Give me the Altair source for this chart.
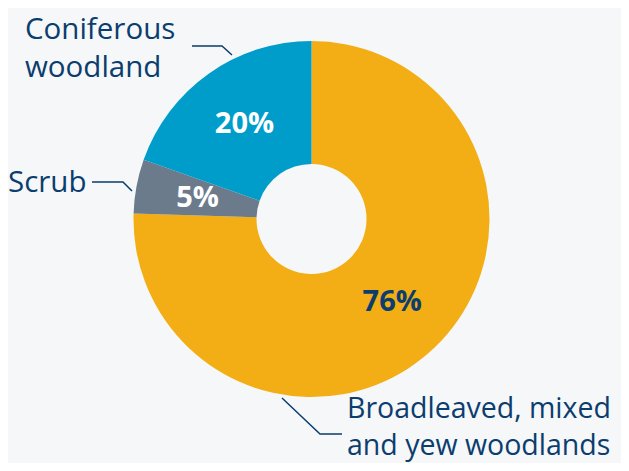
import altair as alt
import pandas as pd

# ---- data ----
categories = ["Broadleaved, mixed and yew woodlands", "Scrub", "Coniferous woodland"]
shares = [75.5, 4.9, 19.6]
pct_labels = ["76%", "5%", "20%"]
slice_order = [1, 2, 3]

# ---- style ----
slice_colors = ["#F2AE14", "#6B7B8C", "#009DCB"]
pct_text_colors = ["#0B3D6E", "#FFFFFF", "#FFFFFF"]
NAVY = "#0B3D6E"
BG = "#F5F7F9"
FONT = "Open Sans"
M = 8  # page margin
CX, CY = 311.5 - M, 219 - M

df = pd.DataFrame({
    "category": categories,
    "share": shares,
    "pct": pct_labels,
    "ord": slice_order,
    "tcolor": pct_text_colors,
})

base = alt.Chart(df).encode(
    theta=alt.Theta("share:Q", stack=True),
    order=alt.Order("ord:Q"),
)

arcs = base.mark_arc(outerRadius=178, innerRadius=55).encode(
    color=alt.Color("category:N", scale=alt.Scale(domain=categories, range=slice_colors), legend=None),
    x=alt.value(CX), y=alt.value(CY),
)

pcts = base.mark_text(radius=116, font=FONT, fontSize=29, fontWeight="bold",
                      align="center", baseline="middle").encode(
    text="pct:N",
    color=alt.Color("tcolor:N", scale=None),
    x=alt.value(CX), y=alt.value(CY),
)

# ---- annotation layout (page coordinates) ----
label_lines = ["Coniferous", "woodland", "Scrub", "Broadleaved, mixed", "and yew woodlands"]
label_x = [25, 25, 8, 347, 347]
label_y = [39, 77, 192, 418, 455]
label_size = [29.5, 29.5, 29.5, 28.5, 28.5]
ann = pd.DataFrame({"t": label_lines, "x": [v - M for v in label_x],
                    "y": [v - M for v in label_y], "s": label_size})

labels = alt.Chart(ann).mark_text(font=FONT, align="left", baseline="alphabetic",
                                  color=NAVY).encode(
    x=alt.X("x:Q", scale=None), y=alt.Y("y:Q", scale=None), text="t:N",
    size=alt.Size("s:Q", scale=None))

lead_grp = ["c", "c", "c", "s", "s", "s", "b", "b", "b"]
lead_i = [0, 1, 2, 0, 1, 2, 0, 1, 2]
lead_x = [192, 222, 232, 92, 123, 132, 282, 320, 342]
lead_y = [46, 46, 55, 182, 182, 191, 398, 434, 434]
lead = pd.DataFrame({"g": lead_grp, "i": lead_i,
                     "x": [v - M for v in lead_x], "y": [v - M for v in lead_y]})

leaders = alt.Chart(lead).mark_line(color=NAVY, strokeWidth=1.5).encode(
    x=alt.X("x:Q", scale=None), y=alt.Y("y:Q", scale=None),
    detail="g:N", order="i:Q")

chart = alt.layer(arcs, pcts, leaders, labels).properties(
    width=629 - 2 * M, height=471 - 2 * M, padding=0,
    autosize=alt.AutoSizeParams(type="none"),
    background=BG,
).configure_view(stroke=None)

chart.save("out.html", embed_options={"renderer": "svg", "actions": False})
